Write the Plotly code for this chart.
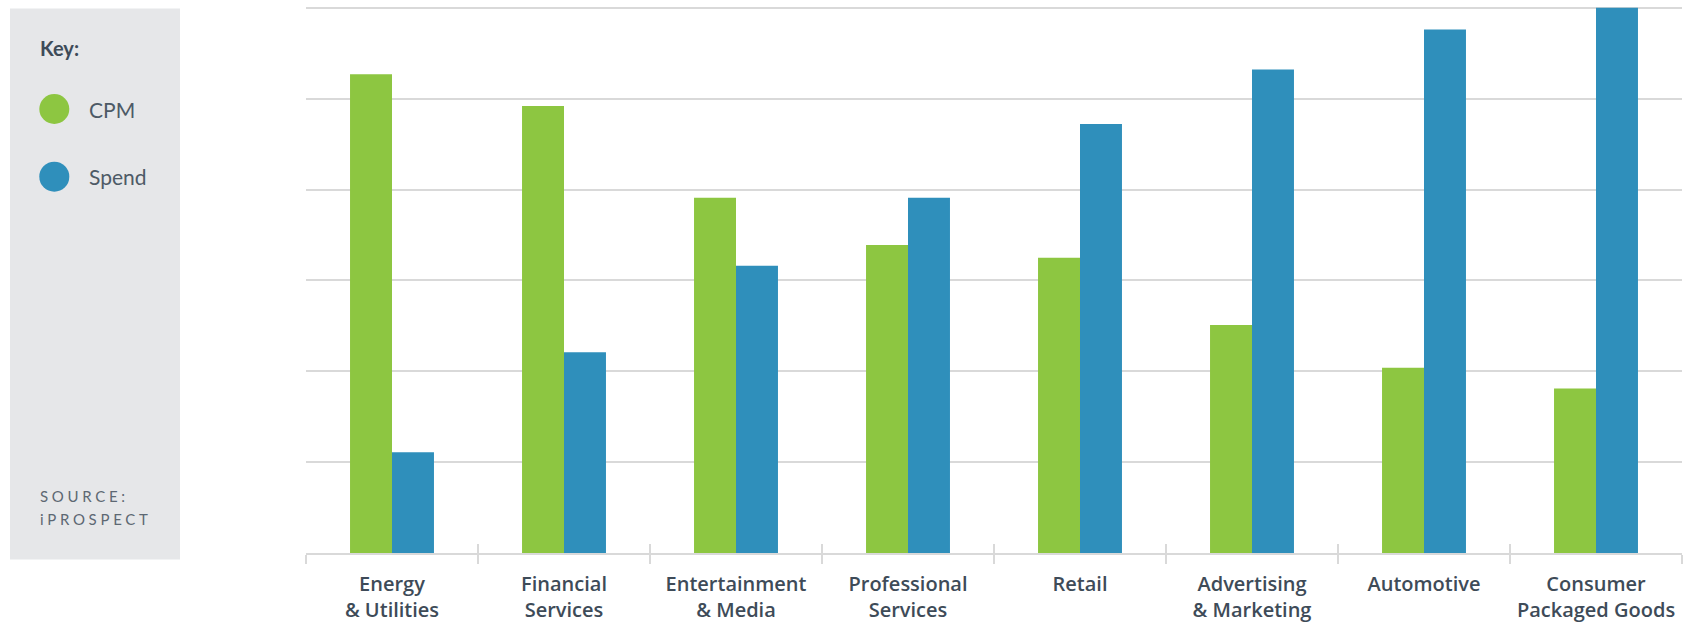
import plotly.graph_objects as go

categories = ["Energy<br>& Utilities", "Financial<br>Services", "Entertainment<br>& Media",
              "Professional<br>Services", "Retail", "Advertising<br>& Marketing",
              "Automotive", "Consumer<br>Packaged Goods"]
cpm = [5.27, 4.92, 3.91, 3.39, 3.25, 2.51, 2.04, 1.81]
spend = [1.11, 2.21, 3.16, 3.91, 4.72, 5.32, 5.76, 6.0]
series_names = ["CPM", "Spend"]
series_colors = ["#8dc641", "#2f8fbb"]
boundary_ticks = [i - 0.5 for i in range(len(categories) + 1)]

W, H = 1691, 622
L, R, T, B = 306, 9, 6, 69
PW, PH = W - L - R, H - T - B


def px(x):
    return (x - L) / PW


def py(y):
    return (H - B - y) / PH


GRID = "#d9d9d9"
DARK = "#3e4b58"

fig = go.Figure()
for name, vals, col in zip(series_names, [cpm, spend], series_colors):
    fig.add_trace(go.Bar(x=categories, y=vals, name=name, marker=dict(color=col, line=dict(width=0)),
                         showlegend=False))
# invisible helper trace so the boundary-tick overlay axis is rendered
fig.add_trace(go.Scatter(x=[boundary_ticks[0], boundary_ticks[-1]], y=[0, 0], xaxis="x2", yaxis="y",
                         mode="lines", line=dict(width=0), opacity=0, hoverinfo="skip", showlegend=False))

shapes = [
    dict(type="rect", xref="paper", yref="paper", x0=px(10), x1=px(180), y0=py(559.5), y1=py(8.5),
         fillcolor="#e6e7e9", line=dict(width=0), layer="below"),
    dict(type="circle", xref="paper", yref="paper", x0=px(39.3), x1=px(69.3), y0=py(124), y1=py(94),
         fillcolor=series_colors[0], line=dict(width=0)),
    dict(type="circle", xref="paper", yref="paper", x0=px(39.3), x1=px(69.3), y0=py(191.7), y1=py(161.7),
         fillcolor=series_colors[1], line=dict(width=0)),
]

annotations = [
    dict(text="<b>Key:</b>", x=px(38), y=py(48), xref="paper", yref="paper", xanchor="left",
         yanchor="middle", showarrow=False, font=dict(family="Lato", size=20, color=DARK)),
    dict(text=series_names[0], x=px(87), y=py(109), xref="paper", yref="paper", xanchor="left",
         yanchor="middle", showarrow=False, font=dict(family="Lato", size=21, color="#4d5a66")),
    dict(text=series_names[1], x=px(87), y=py(176.7), xref="paper", yref="paper", xanchor="left",
         yanchor="middle", showarrow=False, font=dict(family="Lato", size=21, color="#4d5a66")),
    dict(text='<span style="letter-spacing:3.7px">SOURCE:</span>', x=px(38), y=py(495.5), xref="paper",
         yref="paper", xanchor="left", yanchor="middle", showarrow=False,
         font=dict(family="Lato", size=15, color="#5d6873")),
    dict(text='<span style="letter-spacing:3.7px">iPROSPECT</span>', x=px(38), y=py(519), xref="paper",
         yref="paper", xanchor="left", yanchor="middle", showarrow=False,
         font=dict(family="Lato", size=15, color="#5d6873")),
]

fig.update_layout(
    width=W, height=H,
    margin=dict(l=L, r=R, t=T, b=B, autoexpand=False),
    paper_bgcolor="white", plot_bgcolor="white",
    barmode="group", bargap=0.512, bargroupgap=0,
    shapes=shapes, annotations=annotations,
    xaxis=dict(type="category", tickson="boundaries", ticks="outside", ticklen=9, tickwidth=2,
               tickcolor=GRID, showline=True, linecolor=GRID, linewidth=2, showgrid=False,
               ticklabelstandoff=12, automargin=False,
               tickfont=dict(family="Open Sans", size=20, color=DARK, weight=600)),
    xaxis2=dict(overlaying="x", anchor="y", range=[boundary_ticks[0], boundary_ticks[-1]],
                tickmode="array", tickvals=boundary_ticks, ticks="inside", ticklen=9, tickwidth=2,
                tickcolor=GRID, showticklabels=False, showgrid=False, zeroline=False, showline=False,
                side="bottom", automargin=False),
    yaxis=dict(range=[0, 6.02], tickmode="array", tickvals=[0, 1, 2, 3, 4, 5, 6], showgrid=True,
               gridcolor=GRID, gridwidth=2, zeroline=False, showticklabels=False, ticks="",
               automargin=False),
)

fig.write_html("out.html", config={"displayModeBar": False})
with open("out.html", encoding="utf-8") as f:
    html = f.read()
html = html.replace("<head>", "<head><style>html,body{margin:0;padding:0;}</style>", 1)
with open("out.html", "w", encoding="utf-8") as f:
    f.write(html)
